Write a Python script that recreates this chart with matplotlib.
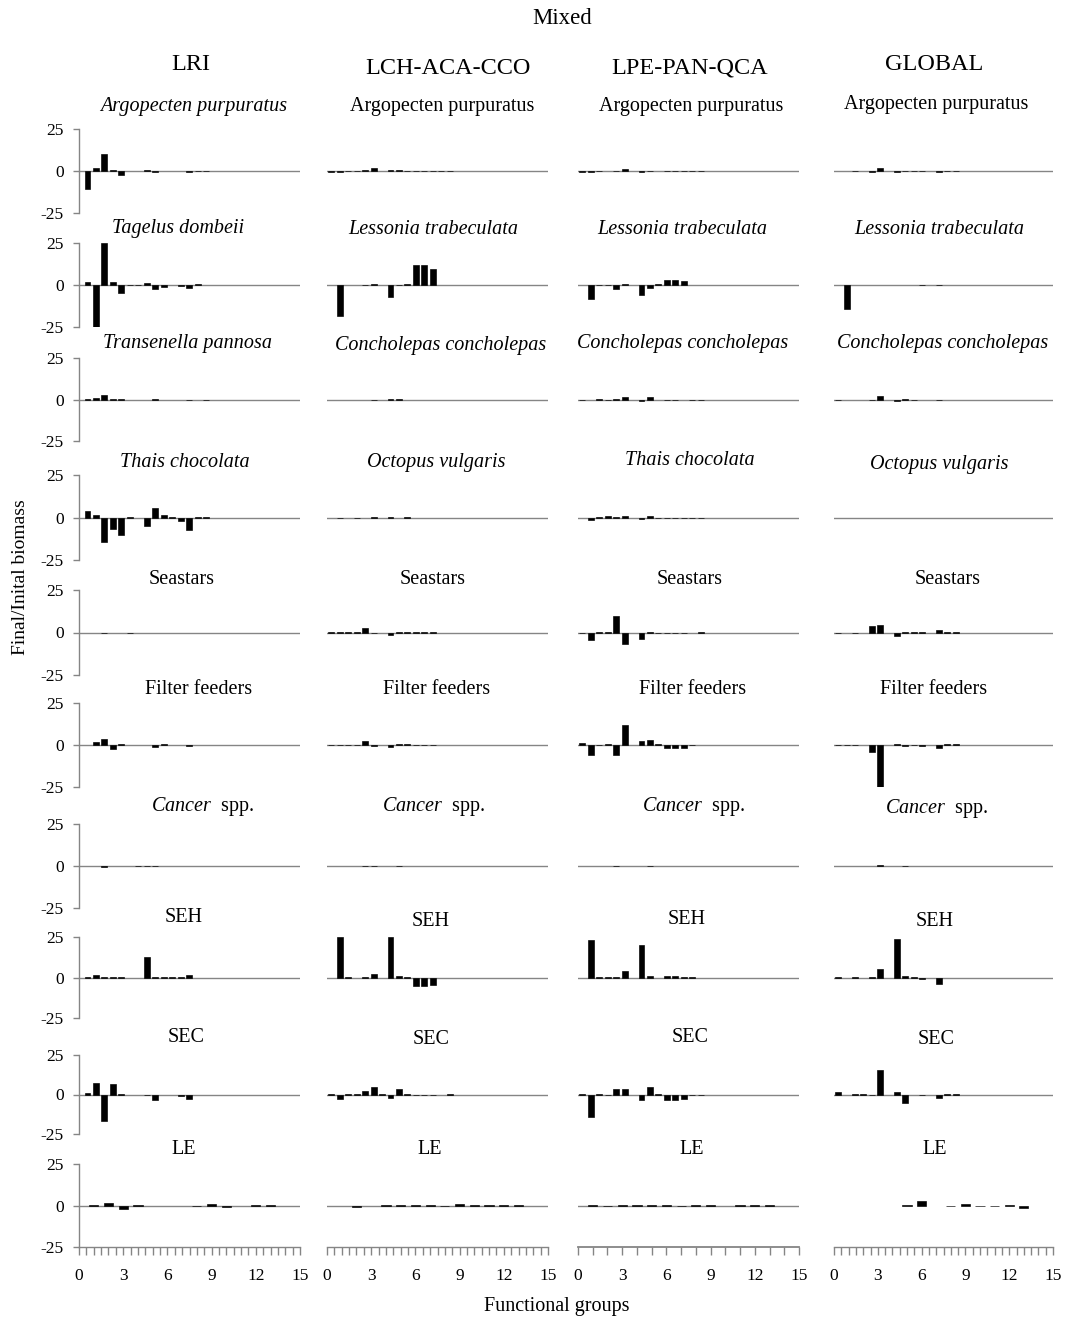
import numpy as np
import matplotlib
matplotlib.use("Agg")
import matplotlib.pyplot as plt

plt.rcParams["font.family"] = ["Liberation Serif", "DejaVu Serif"]
plt.rcParams["mathtext.fontset"] = "custom"
plt.rcParams["mathtext.rm"] = "Liberation Serif"
plt.rcParams["mathtext.it"] = "Liberation Serif:italic"

# ---------------------------------------------------------------- data
regions = ["LRI", "LCH-ACA-CCO", "LPE-PAN-QCA", "GLOBAL"]

titles_lri = ["Argopecten purpuratus", "Tagelus dombeii", "Transenella pannosa",
              "Thais chocolata", "Seastars", "Filter feeders", "Cancer spp.",
              "SEH", "SEC", "LE"]
titles_lch = ["Argopecten purpuratus", "Lessonia trabeculata", "Concholepas concholepas",
              "Octopus vulgaris", "Seastars", "Filter feeders", "Cancer spp.",
              "SEH", "SEC", "LE"]
titles_lpe = ["Argopecten purpuratus", "Lessonia trabeculata", "Concholepas concholepas",
              "Thais chocolata", "Seastars", "Filter feeders", "Cancer spp.",
              "SEH", "SEC", "LE"]
titles_glb = ["Argopecten purpuratus", "Lessonia trabeculata", "Concholepas concholepas",
              "Octopus vulgaris", "Seastars", "Filter feeders", "Cancer spp.",
              "SEH", "SEC", "LE"]

# LRI: functional groups 1..15 (LE: 1..13)
lri_argopecten = [-11, 1.5, 10, 0.3, -2.5, 0, 0, 0.3, -0.3, 0, 0, 0, -0.5, 0.2, 0.2]
lri_tagelus = [1.5, -25, 25, 2, -4.5, 0.2, 0.2, 1, -2.5, -1, 0, -0.5, -2, 0.3, 0]
lri_transenella = [0.2, 1, 3, 0.3, 0.5, 0, 0, 0, 0.2, 0, 0, 0, -0.3, 0, -0.3]
lri_thais = [4, 1.2, -14.5, -7, -10, 0.2, 0, -5, 5.5, 1.7, 0.2, -2, -7.5, 0.3, 0.2]
lri_seastars = [0, 0, -0.2, 0, 0, -0.2, 0, 0, 0, 0, 0, 0, 0, 0, 0]
lri_filter = [0, 1.5, 3.3, -2.5, 0.3, 0, 0, 0, -1.4, 0.3, 0, 0, -0.3, 0, 0]
lri_cancer = [0, 0, -0.3, 0, 0, 0, 0.1, 0.1, 0.1, 0, 0, 0, 0, 0, 0]
lri_seh = [0.2, 1.5, 0.5, 0.3, 0.2, 0, 0, 12.5, 0.2, 0.2, 0.2, 0.5, 1.8, 0, 0]
lri_sec = [1.2, 7, -16.5, 6.5, 0.2, 0, 0, -0.5, -3.5, 0, 0, -0.8, -3, 0, 0]
lri_le = [0.2, 1.5, -2, 0.4, 0, 0, 0, -0.3, 1, -1, 0, 0.2, 0.3]

# LCH-ACA-CCO: functional groups 0..15 (LE: 1..13)
lch_argopecten = [-0.7, -0.3, 0.1, 0.2, 0.3, 2.0, 0, 0.5, 0.3, 0.1, 0.1, 0.1, 0.1, 0.1, 0.1, 0]
lch_lessonia = [0, -18.5, 0, 0, 0.2, 0.5, 0, -7.3, 0.2, 0.3, 12, 12, 9.3, 0, 0, 0]
lch_concholepas = [0, 0, 0, 0, 0, -0.3, 0, 0.1, 0.1, 0, 0, 0, 0, 0, 0, 0]
lch_octopus = [0, -0.2, 0, -0.3, 0, 0.1, 0, 0.1, 0, 0.1, 0, 0, 0, 0, 0, 0]
lch_seastars = [0.1, 0.1, 0.1, 0.1, 2.5, -0.5, 0, -1.5, 0.3, 0.5, 0.2, 0.2, 0.2, 0, 0, 0]
lch_filter = [0.1, 0.1, 0.1, 0.1, 2.3, -0.5, 0, -1.3, 0.3, 0.5, 0.2, 0.2, 0.2, 0, 0, 0]
lch_cancer = [0, 0, 0, 0, 0.1, 0.1, 0, 0, 0.1, 0, 0, 0, 0, 0, 0, 0]
lch_seh = [0, 25, 0.2, 0, 0.3, 2, 0, 25, 0.8, 0.3, -5.5, -5.5, -4.5, 0, 0, 0]
lch_sec = [0.2, -3, 0.2, 0.2, 2, 4.5, 0.2, -2.3, 3.5, 0.3, -0.3, -0.3, -0.3, 0, 0.2, 0]
lch_le = [0, -1, 0, 0.1, 0.1, 0.1, 0.1, -0.3, 1.2, 0.1, 0.1, 0.1, 0.1]

# LPE-PAN-QCA
lpe_argopecten = [-0.5, -0.4, -0.2, 0, 0.2, 1.4, 0, -0.3, -0.2, 0, -0.1, -0.1, -0.1, -0.1, -0.1, 0]
lpe_lessonia = [0, -8.3, 0.2, 0.2, -2.4, 0.5, 0, -5.8, -1.8, 0.3, 3, 3, 2.4, 0, 0, 0]
lpe_concholepas = [-0.5, 0, 0.3, -0.2, 0.5, 1.6, 0, -1.2, 1.3, 0, -0.2, -0.2, 0, -0.3, -0.2, 0]
lpe_thais = [0, -1.4, 0.3, 1.0, 0.2, 1.0, 0, -1.0, 1.0, -0.2, -0.2, -0.2, -0.2, -0.2, -0.2, 0]
lpe_seastars = [-0.3, -4.5, 0.3, 0.3, 10, -6.5, 0, -3.8, 0.3, -0.2, -0.3, -0.3, -0.2, 0, 0.1, 0]
lpe_filter = [1.2, -6.2, -0.2, 0.8, -6.2, 12, 0, 2.5, 2.8, 0.3, -1.8, -1.8, -1.8, 0.2, 0, 0]
lpe_cancer = [0, 0, 0, 0, -0.1, 0, 0, 0, -0.1, 0, 0, 0, 0, 0, 0, 0]
lpe_seh = [0, 23, 0.3, 0.5, 0.3, 4, 0, 20, 1, 0, 0.8, 0.8, 0.3, 0.2, 0, 0]
lpe_sec = [0.2, -14.5, 0.3, -0.3, 3.4, 3.4, 0, -3.2, 4.5, 0.3, -3.5, -3.5, -2.8, -0.3, -0.2, 0]
lpe_le = [0.1, -0.5, 0.1, 0.1, 0.1, 0.1, -0.1, 0.1, 0.5, 0, 0.1, 0.1, 0.1]

# GLOBAL
glb_argopecten = [0, 0, -0.2, 0, -0.3, 1.5, 0, -0.3, -0.2, -0.2, 0.2, 0, -0.4, -0.2, 0.1, 0]
glb_lessonia = [0, -14, 0, 0, 0, 0, 0, 0, 0, 0, -0.2, 0, -0.2, 0, 0, 0]
glb_concholepas = [-0.3, 0, 0, 0, -0.3, 2.2, 0, -1, 0.5, -0.3, 0, 0, -0.2, 0, 0, 0]
glb_octopus = [0, 0, 0, 0, 0, 0, 0, 0, 0, 0, 0, 0, 0, 0, 0, 0]
glb_seastars = [-0.3, 0, -0.2, 0, 4, 4.2, 0, -2, 0.3, 0.3, 0.3, 0, 1.2, 0.2, 0.2, 0]
glb_filter = [0.2, -0.2, -0.2, 0, -4, -25, 0, 0.5, -0.8, 0.2, -0.5, 0, -1.5, 0.3, 0.3, 0]
glb_cancer = [0, 0, 0, 0, 0, 0.3, 0, 0, 0.1, 0, 0, 0, 0, 0, 0, 0]
glb_seh = [0.1, 0, 0.1, 0, 0.1, 5, 0, 24, 0.8, 0.3, -0.8, 0, -4, 0, 0, 0]
glb_sec = [1.5, 0, 0.1, 0.1, -0.5, 15.5, 0, 1.8, -5.5, 0, -0.5, 0, -2.5, 0.2, 0.1, 0]
glb_le = [0, 0, 0, 0, 0.1, 3, 0, -0.5, 0.8, -0.4, -0.4, 0.1, -1.5]

x_ticks = [0, 3, 6, 9, 12, 15]
y_ticks = [-25, 0, 25]

columns = [
    (titles_lri, [lri_argopecten, lri_tagelus, lri_transenella, lri_thais, lri_seastars,
                  lri_filter, lri_cancer, lri_seh, lri_sec, lri_le]),
    (titles_lch, [lch_argopecten, lch_lessonia, lch_concholepas, lch_octopus, lch_seastars,
                  lch_filter, lch_cancer, lch_seh, lch_sec, lch_le]),
    (titles_lpe, [lpe_argopecten, lpe_lessonia, lpe_concholepas, lpe_thais, lpe_seastars,
                  lpe_filter, lpe_cancer, lpe_seh, lpe_sec, lpe_le]),
    (titles_glb, [glb_argopecten, glb_lessonia, glb_concholepas, glb_octopus, glb_seastars,
                  glb_filter, glb_cancer, glb_seh, glb_sec, glb_le]),
]
italic_titles = {"Argopecten purpuratus", "Tagelus dombeii", "Transenella pannosa",
                 "Thais chocolata", "Lessonia trabeculata", "Concholepas concholepas",
                 "Octopus vulgaris"}

# ---------------------------------------------------------------- layout (pixels)
W, H = 1070, 1318
col_x = [(79, 300), (327, 548), (578, 799), (834, 1053)]
row_y = [(129, 213), (243, 327), (358, 441), (475, 560), (590, 675),
         (703, 787), (824, 908), (937, 1018), (1055, 1134), (1164, 1247)]
title_xy = [
    [(194, 107), (442, 106), (691, 106), (936, 105)],
    [(178, 229), (433, 229), (682, 230), (939, 229)],
    [(187, 344), (441, 346), (683, 344), (943, 344)],
    [(185, 463), (436, 462), (690, 460), (939, 464)],
    [(182, 579), (433, 579), (690, 579), (948, 579)],
    [(199, 690), (437, 689), (693, 689), (934, 689)],
    [(203, 807), (434, 807), (694, 807), (937, 808)],
    [(184, 918), (431, 922), (687, 920), (935, 922)],
    [(186, 1038), (431, 1040), (690, 1037), (936, 1039)],
    [(184, 1150), (430, 1150), (692, 1150), (935, 1150)],
]
STEP = 15 / 26.1          # width of one functional-group slot in axis units
GREY = "#858585"

fig = plt.figure(figsize=(W / 100, H / 100), dpi=100)


def fx(px):
    return px / W


def fy(py):
    return 1 - py / H


def bar_positions(ci, n, last_row):
    if last_row:
        return np.arange(1, n + 1, dtype=float)
    if ci == 0:
        return np.arange(1, n + 1) * STEP
    return (np.arange(n) + 0.5) * STEP


for ci, (titles, series) in enumerate(columns):
    x0, x1 = col_x[ci]
    for ri, vals in enumerate(series):
        yt, yb = row_y[ri]
        ax = fig.add_axes([fx(x0), fy(yb), (x1 - x0) / W, (yb - yt) / H])
        ax.set_xlim(0, 15)
        ax.set_ylim(-25, 25)
        for s in ax.spines.values():
            s.set_visible(False)
        last = ri == len(series) - 1

        v = np.asarray(vals, dtype=float)
        pos = bar_positions(ci, len(v), last)
        keep = v != 0
        width = 0.62 if last else 0.7 * STEP
        ax.bar(pos[keep], v[keep], width=width, color="black",
               edgecolor="black", linewidth=0.45, zorder=3)

        if not (ci == 3 and last):
            ax.axhline(0, color=GREY, lw=1.0, zorder=2)

        if ci == 0:
            ax.spines["left"].set_visible(True)
            ax.spines["left"].set_color(GREY)
            ax.spines["left"].set_linewidth(1.0)
            ax.set_yticks(y_ticks)
            ax.set_yticklabels([str(t) for t in y_ticks])
            ax.tick_params(axis="y", direction="out", length=4, width=1,
                           color=GREY, labelsize=12.5, pad=7)
        else:
            ax.set_yticks([])

        if last:
            ax.spines["bottom"].set_visible(True)
            ax.spines["bottom"].set_color(GREY)
            ax.spines["bottom"].set_linewidth(1.3 if ci == 2 else 1.0)
            ax.set_xticks(x_ticks)
            ax.set_xticklabels([str(t) for t in x_ticks])
            minor_step = 1.0 if ci == 2 else 0.5
            ax.set_xticks(np.arange(0, 15.01, minor_step), minor=True)
            ax.tick_params(axis="x", which="both", direction="out", length=6,
                           width=1, color=GREY, labelsize=12.5, pad=9)
        else:
            ax.set_xticks([])

        # panel title
        tx, ty = title_xy[ri][ci]
        name = titles[ri]
        italic = name in italic_titles and not (ci > 0 and ri == 0)
        if name == "Cancer spp.":
            label = r"$\mathit{Cancer}$  spp."
        else:
            label = name
        fig.text(fx(tx), fy(ty), label, ha="center", va="center", fontsize=14.5,
                 style="italic" if italic else "normal")

# headers and axis titles
fig.text(fx(562), fy(18), "Mixed", ha="center", va="center", fontsize=16.5)
header_xy = [(191, 65), (448, 68), (690, 68), (934, 65)]
for name, (hx, hy) in zip(regions, header_xy):
    fig.text(fx(hx), fy(hy), name, ha="center", va="center", fontsize=17.5)
fig.text(fx(21), fy(577), "Final/Inital biomass", ha="center", va="center",
         rotation=90, fontsize=14)
fig.text(fx(557), fy(1306), "Functional groups", ha="center", va="center",
         fontsize=14.5)

fig.savefig("out.png", dpi=100, facecolor="white")
